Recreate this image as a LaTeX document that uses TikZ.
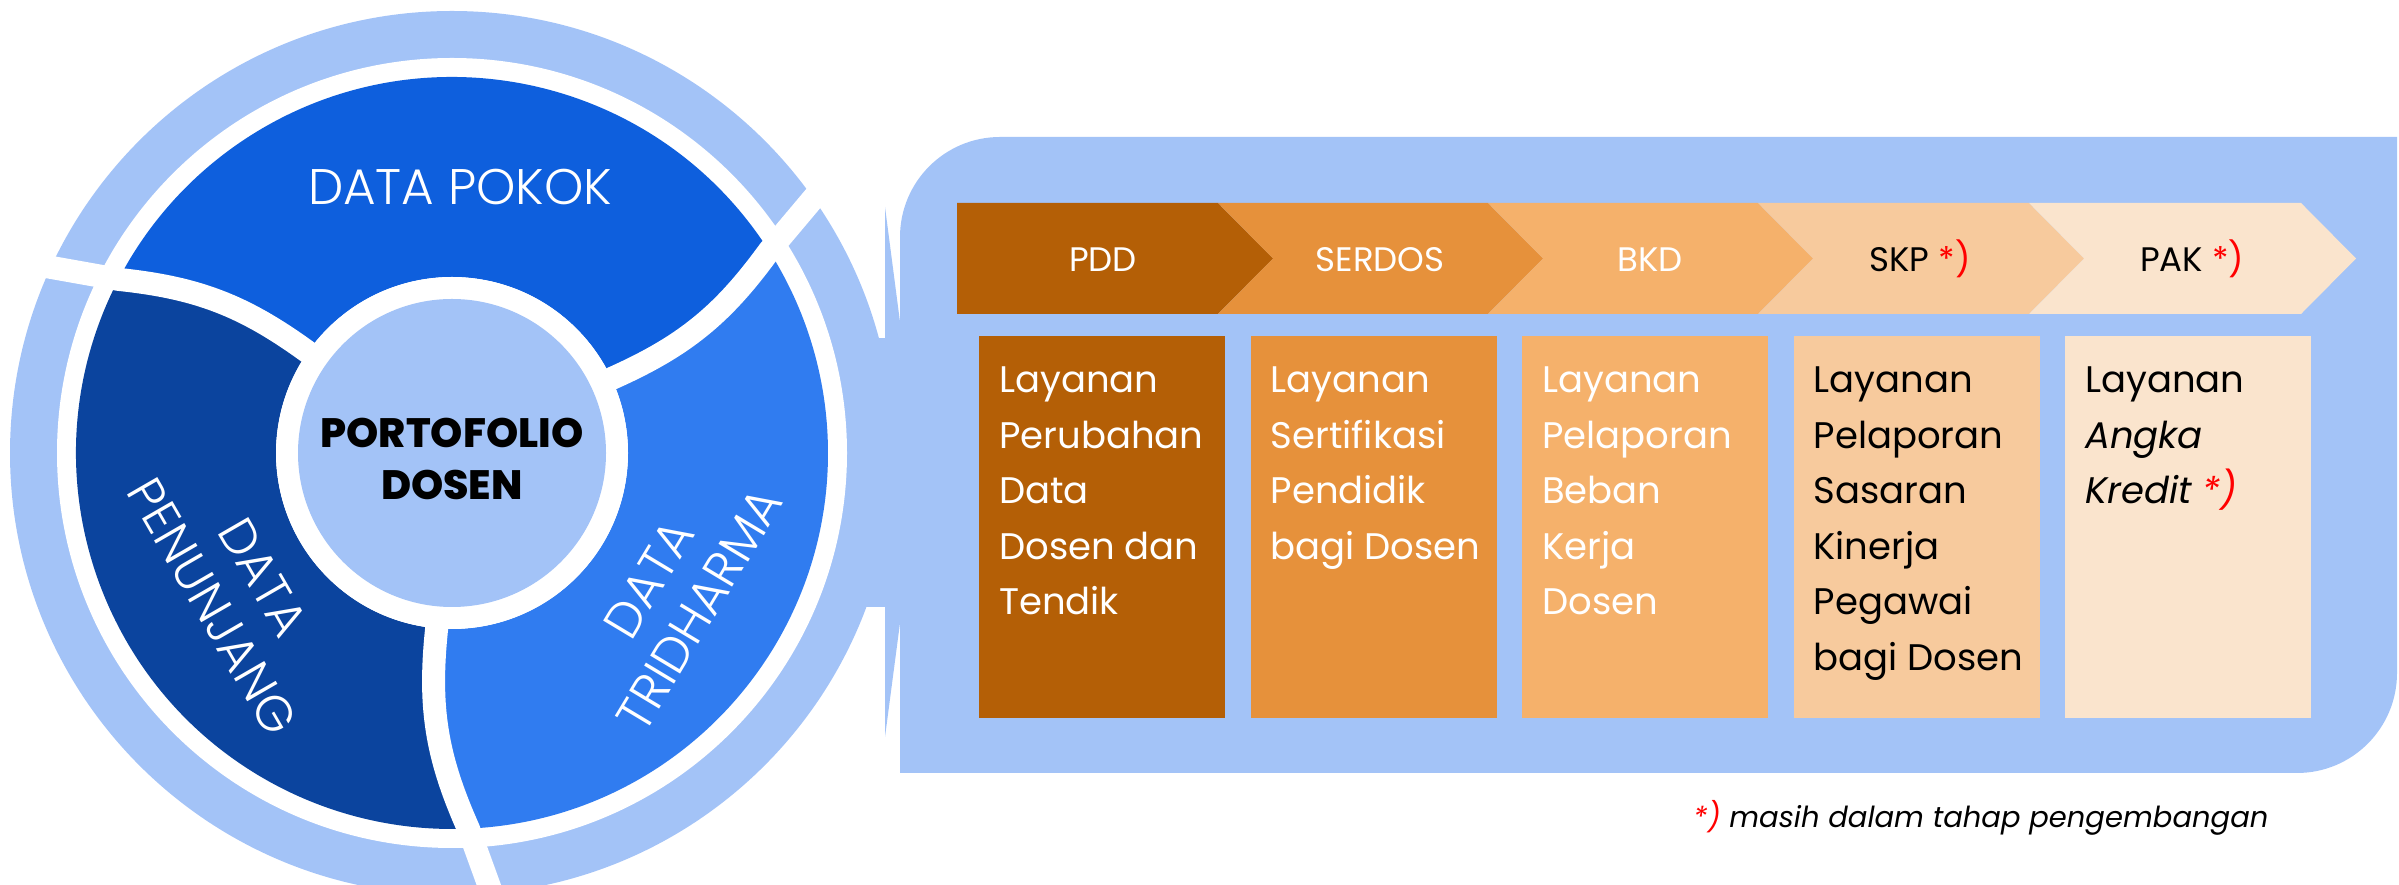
\documentclass[tikz,border=0pt]{standalone}
\usepackage{fontspec}
\setmainfont{Poppins}
\newfontfamily\segfont{Poppins Light}
\newfontfamily\heavyfont{Poppins ExtraBold}

\definecolor{ringblue}{HTML}{A3C3F7}
\definecolor{pokok}{HTML}{0E5FDD}
\definecolor{penunjang}{HTML}{0B449E}
\definecolor{tridharma}{HTML}{307CF0}
\definecolor{pdd}{HTML}{B45F06}
\definecolor{serdos}{HTML}{E6913B}
\definecolor{bkd}{HTML}{F5B16B}
\definecolor{skp}{HTML}{F7CA9D}
\definecolor{pak}{HTML}{FAE4CD}
\newcommand{\devmark}{\textcolor{red}{*)}}

\begin{document}
\begin{tikzpicture}[x=1pt, y=1pt,
    seglabel/.style={text=white, align=center, font=\segfont\fontsize{50}{59}\selectfont},
    gap/.style={white, line width=23pt, line cap=round, line join=round},
    steplabel/.style={anchor=base, font=\fontsize{34}{40}\selectfont},
    boxtext/.style={anchor=north west, inner sep=0pt, align=left,
        font=\fontsize{37}{55.5}\selectfont}
        ]

    \path [use as bounding box] (0,0) rectangle (2399,885);

    % panel with its pointer towards the circle
    \fill [ringblue] (900,112) -- (900,648) arc[start angle=180, end angle=90, radius=100]
        -- (2397,748) -- (2397,212) arc[start angle=0, end angle=-90, radius=100] -- cycle;
    \fill [ringblue] (885,678) -- (900,563) -- (900,262) -- (885,148) -- cycle;
    \fill [ringblue] (850,278) rectangle (886,547);

    \begin{scope}[shift={(452,432)}]
        \fill [ringblue] (0,0) circle (442);
        \fill [white] (0,0) circle (395);

        \fill [pokok] (25:176) to[bend right=15] (32.5:376)
            arc[start angle=32.5, end angle=152.5, radius=376]
            to[bend left=15] (145:176) arc[start angle=145, end angle=25, radius=176] -- cycle;
        \fill [penunjang] (145:176) to[bend right=15] (152.5:376)
            arc[start angle=152.5, end angle=272.5, radius=376]
            to[bend left=15] (265:176) arc[start angle=265, end angle=145, radius=176] -- cycle;
        \fill [tridharma] (265:176) to[bend right=15] (272.5:376)
            arc[start angle=272.5, end angle=392.5, radius=376]
            to[bend left=15] (385:176) arc[start angle=385, end angle=265, radius=176] -- cycle;

        \foreach \a in {25,145,265}
            \draw [gap] (\a:176) to[bend right=15] ({\a+7.5}:376) -- ({\a+10.5}:452);

        \fill [white] (0,0) circle (176);
        \fill [ringblue] (0,0) circle (154);

        \node [font=\heavyfont\fontsize{41}{52}\selectfont, align=center] (porto) at (0,-6) {PORTOFOLIO\\DOSEN};
        \node [seglabel] (pokoklbl) at (8,266) {DATA POKOK};
        \node [seglabel, rotate=-60] (penunjanglbl) at (-214,-139) {DATA\\PENUNJANG};
        \node [seglabel, rotate=59] (tridharmalbl) at (222,-141) {DATA\\TRIDHARMA};
    \end{scope}

    % chevrons
    \fill [pdd] (957,682) -- (1218,682) -- (1273,626.5) -- (1218,571) -- (957,571) -- cycle;
    \fill [serdos] (1218,682) -- (1488,682) -- (1543,626.5) -- (1488,571) -- (1218,571) -- (1273,626.5) -- cycle;
    \fill [bkd] (1488,682) -- (1758,682) -- (1813,626.5) -- (1758,571) -- (1488,571) -- (1543,626.5) -- cycle;
    \fill [skp] (1758,682) -- (2029,682) -- (2084,626.5) -- (2029,571) -- (1758,571) -- (1813,626.5) -- cycle;
    \fill [pak] (2029,682) -- (2301,682) -- (2356,626.5) -- (2301,571) -- (2029,571) -- (2084,626.5) -- cycle;

    \node [steplabel, text=white] (pdd) at (1103,613) {PDD};
    \node [steplabel, text=white] (serdos) at (1380,613) {SERDOS};
    \node [steplabel, text=white] (bkd) at (1650,613) {BKD};
    \node [steplabel] (skp) at (1920,613) {SKP \devmark};
    \node [steplabel] (pak) at (2192,613) {PAK \devmark};

    % boxes
    \fill [pdd] (979,167) rectangle ++(246,382);
    \fill [serdos] (1250.5,167) rectangle ++(246,382);
    \fill [bkd] (1522,167) rectangle ++(246,382);
    \fill [skp] (1793.5,167) rectangle ++(246,382);
    \fill [pak] (2065,167) rectangle ++(246,382);

    \node [boxtext, text=white] (pddtext) at (999,518) {Layanan\\Perubahan\\Data\\Dosen dan\\Tendik};
    \node [boxtext, text=white] (serdostext) at (1270.5,518) {Layanan\\Sertifikasi\\Pendidik\\bagi Dosen};
    \node [boxtext, text=white] (bkdtext) at (1542,518) {Layanan\\Pelaporan\\Beban\\Kerja\\Dosen};
    \node [boxtext] (skptext) at (1813.5,518) {Layanan\\Pelaporan\\Sasaran\\Kinerja\\Pegawai\\bagi Dosen};
    \node [boxtext] (paktext) at (2085,518) {Layanan\\\textit{Angka}\\\textit{Kredit \devmark}};

    \node [anchor=base east, font=\itshape\fontsize{29}{35}\selectfont] (footnote) at (2272,57)
        {\devmark{} masih dalam tahap pengembangan};

\end{tikzpicture}
\end{document}
